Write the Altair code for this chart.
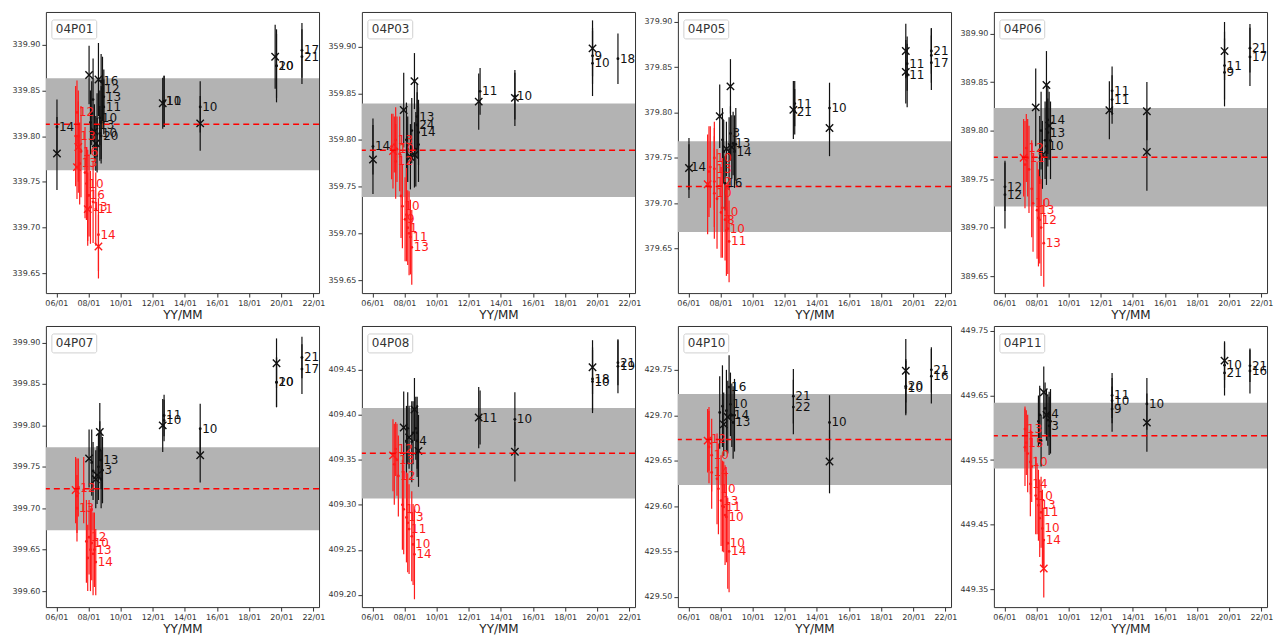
import altair as alt
import pandas as pd
import numpy as np

# ---------------- data (date, value, half error, label, marker) ----------------
P01_BLACK = [
    ("2006-01", 339.781, 0.040, "", "x"), ("2006-01", 339.810, 0.030, "14", "dot"),
    ("2008-01", 339.867, 0.032, "", "x"), ("2008-02", 339.815, 0.035, "", "dot"),
    ("2008-05", 339.805, 0.030, "", "x"), ("2008-07", 339.812, 0.035, "13", "dot"),
    ("2008-08", 339.862, 0.040, "", "x"), ("2008-09", 339.820, 0.030, "10", "dot"),
    ("2008-10", 339.860, 0.030, "16", "dot"), ("2008-10", 339.800, 0.030, "20", "dot"),
    ("2008-11", 339.852, 0.035, "12", "dot"), ("2008-12", 339.843, 0.030, "13", "dot"),
    ("2008-12", 339.832, 0.030, "11", "dot"), ("2008-06", 339.792, 0.030, "", "x"),
    ("2008-09", 339.803, 0.030, "10", "dot"), ("2008-03", 339.825, 0.035, "", "dot"),
    ("2008-07", 339.790, 0.030, "", "dot"), ("2008-10", 339.815, 0.040, "", "dot"),
    ("2008-04", 339.840, 0.045, "", "dot"),
    ("2012-08", 339.836, 0.028, "", "x"), ("2012-09", 339.838, 0.028, "10", "dot"),
    ("2012-09", 339.838, 0.028, "11", "dot"),
    ("2014-12", 339.814, 0.030, "", "x"), ("2014-12", 339.832, 0.028, "10", "dot"),
    ("2019-08", 339.887, 0.035, "", "x"), ("2019-09", 339.877, 0.040, "20", "dot"),
    ("2019-09", 339.877, 0.035, "10", "dot"),
    ("2021-04", 339.887, 0.030, "21", "dot"), ("2021-04", 339.894, 0.030, "17", "dot"),
]
P01_RED = [
    ("2007-04", 339.826, 0.035, "12", "dot"), ("2007-05", 339.800, 0.050, "13", "dot"),
    ("2007-05", 339.788, 0.050, "", "x"), ("2007-04", 339.766, 0.035, "", "x"),
    ("2007-07", 339.783, 0.050, "16", "dot"), ("2007-11", 339.748, 0.040, "10", "dot"),
    ("2007-12", 339.735, 0.050, "16", "dot"), ("2008-02", 339.722, 0.040, "13", "dot"),
    ("2007-12", 339.720, 0.040, "", "x"), ("2008-06", 339.720, 0.040, "11", "dot"),
    ("2008-08", 339.692, 0.040, "14", "dot"), ("2008-08", 339.679, 0.035, "", "x"),
    ("2007-03", 339.800, 0.055, "", "dot"), ("2007-06", 339.770, 0.045, "13", "dot"),
    ("2007-10", 339.760, 0.050, "", "dot"), ("2008-04", 339.728, 0.045, "", "dot"),
    ("2008-01", 339.735, 0.045, "", "dot"),
]

P03_BLACK = [
    ("2006-01", 359.779, 0.037, "", "x"), ("2006-01", 359.793, 0.030, "14", "dot"),
    ("2007-12", 359.832, 0.040, "", "x"), ("2008-03", 359.790, 0.035, "", "dot"),
    ("2008-05", 359.782, 0.035, "", "x"), ("2008-08", 359.863, 0.030, "", "x"),
    ("2008-09", 359.790, 0.040, "", "dot"), ("2008-10", 359.825, 0.035, "13", "dot"),
    ("2008-10", 359.816, 0.035, "24", "dot"), ("2008-11", 359.808, 0.035, "14", "dot"),
    ("2008-08", 359.784, 0.035, "", "x"), ("2008-02", 359.800, 0.040, "", "dot"),
    ("2008-06", 359.810, 0.035, "", "dot"), ("2008-11", 359.795, 0.040, "", "dot"),
    ("2012-08", 359.841, 0.030, "", "x"), ("2012-09", 359.852, 0.025, "11", "dot"),
    ("2014-11", 359.845, 0.030, "", "x"), ("2014-11", 359.847, 0.025, "10", "dot"),
    ("2019-09", 359.898, 0.030, "", "x"), ("2019-09", 359.882, 0.035, "10", "dot"),
    ("2019-09", 359.890, 0.030, "9", "dot"),
    ("2021-04", 359.887, 0.027, "18", "dot"),
]
P03_RED = [
    ("2007-03", 359.793, 0.035, "", "dot"), ("2007-04", 359.788, 0.040, "", "x"),
    ("2007-06", 359.800, 0.035, "13", "dot"), ("2007-07", 359.790, 0.035, "10", "dot"),
    ("2007-06", 359.777, 0.040, "12", "dot"), ("2007-09", 359.785, 0.040, "", "dot"),
    ("2007-11", 359.729, 0.045, "10", "dot"), ("2008-01", 359.715, 0.045, "9", "dot"),
    ("2008-03", 359.706, 0.040, "1", "dot"), ("2008-05", 359.696, 0.040, "11", "dot"),
    ("2008-06", 359.685, 0.040, "13", "dot"), ("2007-05", 359.795, 0.030, "", "dot"),
    ("2007-10", 359.740, 0.045, "", "dot"), ("2008-02", 359.720, 0.050, "", "dot"),
    ("2008-04", 359.700, 0.045, "", "dot"),
]

P05_BLACK = [
    ("2006-01", 379.739, 0.033, "", "x"), ("2006-01", 379.740, 0.025, "14", "dot"),
    ("2007-12", 379.796, 0.035, "", "x"), ("2008-03", 379.757, 0.035, "", "dot"),
    ("2008-04", 379.722, 0.030, "16", "dot"), ("2008-05", 379.760, 0.030, "", "x"),
    ("2008-08", 379.829, 0.030, "", "x"), ("2008-08", 379.777, 0.030, "3", "dot"),
    ("2008-10", 379.766, 0.035, "13", "dot"), ("2008-11", 379.757, 0.040, "14", "dot"),
    ("2008-09", 379.762, 0.035, "", "x"), ("2008-02", 379.770, 0.035, "", "dot"),
    ("2008-07", 379.755, 0.040, "", "dot"), ("2008-12", 379.765, 0.040, "", "dot"),
    ("2012-07", 379.803, 0.032, "", "x"), ("2012-08", 379.810, 0.025, "11", "dot"),
    ("2012-08", 379.801, 0.025, "21", "dot"),
    ("2014-10", 379.783, 0.031, "", "x"), ("2014-10", 379.805, 0.028, "10", "dot"),
    ("2019-07", 379.868, 0.030, "", "x"), ("2019-07", 379.845, 0.035, "", "x"),
    ("2019-08", 379.854, 0.030, "11", "dot"), ("2019-08", 379.841, 0.035, "11", "dot"),
    ("2021-02", 379.863, 0.030, "", "dot"), ("2021-02", 379.868, 0.025, "21", "dot"),
    ("2021-02", 379.855, 0.030, "17", "dot"),
]
P05_RED = [
    ("2007-03", 379.721, 0.055, "", "x"), ("2007-05", 379.740, 0.045, "", "dot"),
    ("2007-08", 379.750, 0.040, "10", "dot"), ("2007-08", 379.738, 0.045, "13", "dot"),
    ("2007-08", 379.724, 0.050, "12", "dot"), ("2007-08", 379.711, 0.050, "10", "dot"),
    ("2008-01", 379.690, 0.050, "10", "dot"), ("2008-04", 379.682, 0.045, "8", "dot"),
    ("2008-06", 379.672, 0.050, "10", "dot"), ("2008-07", 379.658, 0.045, "11", "dot"),
    ("2007-04", 379.735, 0.050, "", "dot"), ("2007-10", 379.705, 0.055, "", "dot"),
    ("2008-02", 379.695, 0.055, "", "dot"), ("2008-05", 379.670, 0.050, "", "dot"),
]

P06_BLACK = [
    ("2006-01", 389.742, 0.025, "12", "dot"), ("2006-01", 389.734, 0.035, "12", "dot"),
    ("2007-12", 389.824, 0.040, "", "x"), ("2008-03", 389.780, 0.035, "", "dot"),
    ("2008-05", 389.775, 0.035, "", "x"), ("2008-08", 389.847, 0.035, "", "x"),
    ("2008-09", 389.811, 0.035, "14", "dot"), ("2008-09", 389.798, 0.035, "13", "dot"),
    ("2008-08", 389.784, 0.040, "10", "dot"), ("2008-10", 389.805, 0.035, "", "x"),
    ("2008-04", 389.800, 0.040, "", "dot"), ("2008-07", 389.790, 0.040, "", "dot"),
    ("2008-11", 389.790, 0.040, "", "dot"),
    ("2012-07", 389.821, 0.030, "", "x"), ("2012-09", 389.841, 0.025, "11", "dot"),
    ("2012-09", 389.832, 0.025, "11", "dot"),
    ("2014-11", 389.820, 0.030, "", "x"), ("2014-11", 389.778, 0.040, "", "x"),
    ("2019-09", 389.882, 0.030, "", "x"), ("2019-09", 389.867, 0.035, "11", "dot"),
    ("2019-09", 389.860, 0.035, "9", "dot"),
    ("2021-04", 389.885, 0.025, "21", "dot"), ("2021-04", 389.876, 0.030, "17", "dot"),
]
P06_RED = [
    ("2007-03", 389.772, 0.040, "", "x"), ("2007-05", 389.782, 0.035, "12", "dot"),
    ("2007-06", 389.772, 0.040, "11", "dot"), ("2007-07", 389.760, 0.045, "", "dot"),
    ("2007-10", 389.725, 0.050, "10", "dot"), ("2008-01", 389.718, 0.050, "13", "dot"),
    ("2008-03", 389.708, 0.045, "12", "dot"), ("2008-06", 389.684, 0.045, "13", "dot"),
    ("2007-04", 389.765, 0.045, "", "dot"), ("2007-09", 389.740, 0.050, "", "dot"),
    ("2008-02", 389.710, 0.050, "", "dot"), ("2008-04", 389.700, 0.050, "", "dot"),
]

P07_BLACK = [
    ("2008-01", 399.760, 0.035, "", "x"), ("2008-04", 399.745, 0.035, "", "dot"),
    ("2008-06", 399.735, 0.035, "", "x"), ("2008-09", 399.792, 0.035, "", "x"),
    ("2008-09", 399.770, 0.035, "", "dot"), ("2008-10", 399.758, 0.035, "13", "dot"),
    ("2008-11", 399.746, 0.040, "3", "dot"), ("2008-07", 399.740, 0.035, "", "x"),
    ("2008-03", 399.755, 0.040, "", "dot"), ("2008-08", 399.750, 0.040, "", "dot"),
    ("2008-10", 399.735, 0.035, "", "dot"),
    ("2012-08", 399.800, 0.032, "", "x"), ("2012-09", 399.812, 0.025, "11", "dot"),
    ("2012-09", 399.806, 0.025, "10", "dot"),
    ("2014-12", 399.764, 0.033, "", "x"), ("2014-12", 399.796, 0.030, "10", "dot"),
    ("2019-09", 399.875, 0.030, "", "x"), ("2019-09", 399.852, 0.030, "10", "dot"),
    ("2019-09", 399.852, 0.030, "20", "dot"),
    ("2021-04", 399.882, 0.025, "21", "dot"), ("2021-04", 399.868, 0.030, "17", "dot"),
]
P07_RED = [
    ("2007-03", 399.722, 0.040, "", "x"), ("2007-05", 399.725, 0.035, "12", "dot"),
    ("2007-04", 399.700, 0.040, "13", "dot"), ("2007-09", 399.722, 0.040, "", "dot"),
    ("2007-12", 399.640, 0.040, "", "dot"), ("2008-01", 399.665, 0.045, "12", "dot"),
    ("2008-03", 399.658, 0.045, "10", "dot"), ("2008-05", 399.650, 0.045, "13", "dot"),
    ("2008-06", 399.635, 0.040, "14", "dot"), ("2007-04", 399.715, 0.045, "", "dot"),
    ("2007-11", 399.660, 0.050, "", "dot"), ("2008-02", 399.650, 0.050, "", "dot"),
    ("2008-04", 399.645, 0.050, "", "dot"),
]

P08_BLACK = [
    ("2007-12", 409.386, 0.040, "", "x"), ("2008-02", 409.370, 0.040, "", "dot"),
    ("2008-04", 409.375, 0.035, "", "x"), ("2008-07", 409.380, 0.035, "", "dot"),
    ("2008-08", 409.406, 0.035, "", "x"), ("2008-09", 409.385, 0.035, "", "dot"),
    ("2008-10", 409.371, 0.040, "4", "dot"), ("2008-11", 409.360, 0.040, "", "x"),
    ("2008-03", 409.385, 0.040, "", "dot"), ("2008-06", 409.370, 0.045, "", "dot"),
    ("2008-10", 409.380, 0.040, "", "dot"),
    ("2012-08", 409.397, 0.034, "", "x"), ("2012-09", 409.397, 0.030, "11", "dot"),
    ("2014-11", 409.359, 0.033, "", "x"), ("2014-11", 409.395, 0.030, "10", "dot"),
    ("2019-09", 409.453, 0.030, "", "x"), ("2019-09", 409.440, 0.035, "18", "dot"),
    ("2019-09", 409.437, 0.035, "10", "dot"),
    ("2021-04", 409.458, 0.025, "21", "dot"), ("2021-04", 409.454, 0.030, "19", "dot"),
]
P08_RED = [
    ("2007-04", 409.355, 0.040, "", "x"), ("2007-06", 409.362, 0.030, "12", "dot"),
    ("2007-07", 409.350, 0.040, "13", "dot"), ("2007-08", 409.332, 0.045, "12", "dot"),
    ("2007-12", 409.295, 0.050, "10", "dot"), ("2008-02", 409.286, 0.050, "13", "dot"),
    ("2008-04", 409.273, 0.050, "11", "dot"), ("2008-07", 409.256, 0.045, "10", "dot"),
    ("2008-08", 409.245, 0.050, "14", "dot"), ("2007-05", 409.345, 0.045, "", "dot"),
    ("2007-11", 409.300, 0.050, "", "dot"), ("2008-03", 409.280, 0.055, "", "dot"),
    ("2008-06", 409.265, 0.050, "", "dot"),
]

P10_BLACK = [
    ("2007-12", 429.703, 0.040, "", "dot"), ("2008-03", 429.690, 0.035, "", "x"),
    ("2008-07", 429.731, 0.035, "16", "dot"), ("2008-08", 429.712, 0.035, "10", "dot"),
    ("2008-09", 429.700, 0.035, "14", "dot"), ("2008-10", 429.692, 0.040, "13", "dot"),
    ("2008-06", 429.698, 0.040, "", "x"), ("2008-02", 429.710, 0.045, "", "dot"),
    ("2008-05", 429.705, 0.045, "", "dot"), ("2008-11", 429.700, 0.040, "", "dot"),
    ("2012-07", 429.721, 0.030, "21", "dot"), ("2012-07", 429.709, 0.030, "22", "dot"),
    ("2014-10", 429.649, 0.035, "", "x"), ("2014-10", 429.692, 0.030, "10", "dot"),
    ("2019-07", 429.749, 0.035, "", "x"), ("2019-07", 429.732, 0.030, "20", "dot"),
    ("2019-07", 429.730, 0.030, "10", "dot"),
    ("2021-02", 429.750, 0.025, "21", "dot"), ("2021-02", 429.743, 0.030, "16", "dot"),
]
P10_RED = [
    ("2007-03", 429.672, 0.035, "", "x"), ("2007-04", 429.674, 0.035, "12", "dot"),
    ("2007-06", 429.656, 0.040, "10", "dot"), ("2007-06", 429.637, 0.040, "14", "dot"),
    ("2007-11", 429.619, 0.050, "10", "dot"), ("2008-01", 429.606, 0.050, "13", "dot"),
    ("2008-03", 429.599, 0.050, "11", "dot"), ("2008-05", 429.588, 0.050, "10", "dot"),
    ("2008-06", 429.559, 0.050, "10", "dot"), ("2008-07", 429.550, 0.045, "14", "dot"),
    ("2007-04", 429.665, 0.040, "", "dot"), ("2007-10", 429.630, 0.050, "", "dot"),
    ("2008-02", 429.600, 0.050, "", "dot"), ("2008-04", 429.590, 0.055, "", "dot"),
]

P11_BLACK = [
    ("2008-06", 449.655, 0.040, "", "x"), ("2008-02", 449.610, 0.040, "", "dot"),
    ("2008-04", 449.580, 0.040, "", "dot"), ("2008-08", 449.620, 0.040, "", "x"),
    ("2008-10", 449.621, 0.035, "4", "dot"), ("2008-10", 449.603, 0.045, "3", "dot"),
    ("2008-09", 449.612, 0.040, "", "dot"), ("2008-03", 449.620, 0.045, "", "dot"),
    ("2008-07", 449.630, 0.040, "", "dot"), ("2008-11", 449.610, 0.050, "", "dot"),
    ("2012-09", 449.650, 0.035, "11", "dot"), ("2012-09", 449.642, 0.035, "10", "dot"),
    ("2012-09", 449.629, 0.035, "9", "dot"),
    ("2014-11", 449.608, 0.045, "", "x"), ("2014-11", 449.637, 0.040, "10", "dot"),
    ("2019-09", 449.704, 0.030, "", "x"), ("2019-09", 449.697, 0.035, "10", "dot"),
    ("2019-09", 449.685, 0.035, "21", "dot"),
    ("2021-04", 449.696, 0.025, "21", "dot"), ("2021-04", 449.688, 0.035, "16", "dot"),
]
P11_RED = [
    ("2007-04", 449.598, 0.035, "13", "dot"), ("2007-05", 449.577, 0.050, "15", "dot"),
    ("2007-06", 449.560, 0.060, "", "dot"), ("2007-08", 449.547, 0.050, "10", "dot"),
    ("2007-08", 449.513, 0.050, "14", "dot"), ("2007-12", 449.495, 0.060, "10", "dot"),
    ("2008-02", 449.480, 0.055, "13", "dot"), ("2008-04", 449.469, 0.055, "11", "dot"),
    ("2008-05", 449.444, 0.060, "10", "dot"), ("2008-06", 449.426, 0.050, "14", "dot"),
    ("2008-06", 449.382, 0.045, "", "x"), ("2007-04", 449.570, 0.060, "", "dot"),
    ("2007-09", 449.540, 0.055, "", "dot"), ("2008-01", 449.490, 0.055, "", "dot"),
    ("2008-03", 449.460, 0.060, "", "dot"),
]

PANEL_NAMES = ["04P01", "04P03", "04P05", "04P06", "04P07", "04P08", "04P10", "04P11"]
BLACK_SETS = [P01_BLACK, P03_BLACK, P05_BLACK, P06_BLACK, P07_BLACK, P08_BLACK, P10_BLACK, P11_BLACK]
RED_SETS = [P01_RED, P03_RED, P05_RED, P06_RED, P07_RED, P08_RED, P10_RED, P11_RED]
Y_DOMAINS = [
    [339.628, 339.936], [359.636, 359.937], [379.601, 379.911], [389.6325, 389.9223],
    [399.5807, 399.920], [409.1863, 409.4988], [429.4887, 429.7983], [449.3222, 449.7577],
]
MEANS = [339.813, 359.789, 379.7185, 389.7726, 399.7236, 409.3572, 429.6732, 449.5878]
BAND_HALF = [0.0505, 0.050, 0.050, 0.0508, 0.0501, 0.0503, 0.0501, 0.0508]
X_TICK_YEARS = list(range(2006, 2023, 2))

W, H = 274, 282
XSHAPE = "M-1,-1L1,1M-1,1L1,-1"


def make_panel(name, black, red, domain, mean, half):
    rows = []
    for series, recs in (("black", black), ("red", red)):
        for d, v, e, lab, mk in recs:
            rows.append(dict(date=d + "-15", value=v, lo=v - e, hi=v + e,
                             label=lab, marker=mk, series=series))
    df = pd.DataFrame(rows)
    ticks = [round(t, 2) for t in np.arange(np.ceil(domain[0] / 0.05 - 1e-6) * 0.05,
                                             domain[1] + 1e-9, 0.05)]
    yscale = alt.Scale(domain=domain, nice=False, zero=False)
    yaxis = alt.Axis(values=ticks, format=".2f", title=None)
    x = alt.X("date:T",
              scale=alt.Scale(domain=[alt.DateTime(year=2005, month=5, date=8),
                                      alt.DateTime(year=2022, month=5, date=8)]),
              axis=alt.Axis(values=[alt.DateTime(year=y, month=1, date=1) for y in X_TICK_YEARS],
                            format="%y/%m", title="YY/MM", labelFlush=False))
    y = alt.Y("value:Q", scale=yscale, axis=yaxis)
    color = alt.Color("series:N", scale=alt.Scale(domain=["black", "red"],
                                                  range=["#111111", "#ff1a1a"]), legend=None)

    base = alt.Chart(df)
    band = alt.Chart(pd.DataFrame({"lo": [mean - half], "hi": [mean + half]})).mark_rect(
        color="#b3b3b3").encode(y=alt.Y("lo:Q", scale=yscale, axis=yaxis),
                               y2="hi:Q", x=alt.value(0), x2=alt.value(W))
    bars = base.mark_rule(strokeWidth=1.2, clip=True).encode(
        x=x, y=alt.Y("lo:Q"), y2="hi:Q", color=color)
    xs = base.transform_filter(alt.datum.marker == "x").mark_point(
        shape=XSHAPE, size=55, filled=False, strokeWidth=1.4, opacity=1, clip=True).encode(
        x=x, y=y, color=color)
    dots = base.transform_filter(alt.datum.marker == "dot").mark_point(
        filled=True, size=8, opacity=1, clip=True).encode(x=x, y=y, color=color)
    labels = base.transform_filter(alt.datum.label != "").mark_text(
        align="left", baseline="middle", dx=2, fontSize=12, font="DejaVu Sans", clip=True).encode(
        x=x, y=y, text="label:N", color=color)
    mline = alt.Chart(pd.DataFrame({"m": [mean]})).mark_rule(
        color="#ff0000", strokeDash=[6, 4], strokeWidth=1.5).encode(y="m:Q")
    box = alt.Chart(pd.DataFrame({"a": [0]})).mark_rect(
        fill="white", stroke="#d0d0d0", strokeWidth=1, cornerRadius=2).encode(
        x=alt.value(6), x2=alt.value(51), y=alt.value(8), y2=alt.value(27))
    title = alt.Chart(pd.DataFrame({"a": [0]})).mark_text(
        align="left", baseline="middle", fontSize=12, font="DejaVu Sans", color="#333333").encode(
        x=alt.value(10), y=alt.value(17.5), text=alt.value(name))
    return alt.layer(band, bars, xs, dots, mline, labels, box, title).properties(width=W, height=H)


panels = [make_panel(n, b, r, d, m, h) for n, b, r, d, m, h in
          zip(PANEL_NAMES, BLACK_SETS, RED_SETS, Y_DOMAINS, MEANS, BAND_HALF)]

chart = alt.concat(*panels, columns=4, spacing={"row": 33, "column": 43}, bounds="flush").properties(
    padding={"left": 3, "top": 2, "right": 0, "bottom": 0}
).configure_view(stroke="#333333", strokeWidth=1).configure_axis(
    domain=False, grid=False, tickColor="#333333", tickSize=4, labelColor="#333333",
    labelFont="DejaVu Sans", labelFontSize=8, titleFont="DejaVu Sans", titleFontSize=12,
    titleFontWeight="normal", titleColor="#222222", labelPadding=2, titlePadding=2)

chart.save("out.html", embed_options={"renderer": "svg", "actions": False})
